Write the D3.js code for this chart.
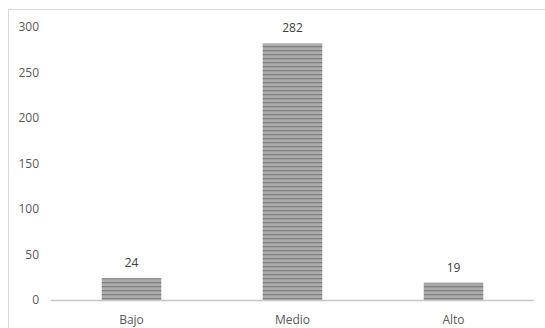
<!DOCTYPE html>
<html>
<head>
<meta charset="utf-8">
<script src="https://cdn.jsdelivr.net/npm/d3@7"></script>
<style>
  html, body { margin: 0; padding: 0; background: #fff; }
  svg { display: block; }
</style>
</head>
<body>
<div id="chart"></div>
<script>
'use strict';

// Chart data
const categories = ['Bajo', 'Medio', 'Alto'];
const values = [24, 282, 19];
const yTicks = [0, 50, 100, 150, 200, 250, 300];

const W = 545, H = 328;
const margin = { top: 27, right: 11, bottom: 28, left: 51 };

const svg = d3.select('#chart').append('svg')
    .attr('width', W)
    .attr('height', H);

// Striped fill for the bars
const pat = svg.append('defs').append('pattern')
    .attr('id', 'stripes')
    .attr('patternUnits', 'userSpaceOnUse')
    .attr('width', 8)
    .attr('height', 4);
pat.append('rect').attr('width', 8).attr('height', 4).attr('fill', '#ababab');
pat.append('rect').attr('y', 2).attr('width', 8).attr('height', 1.3).attr('fill', '#808080');

// Chart frame (only left and top edges are visible)
svg.append('rect')
    .attr('x', 8.5).attr('y', 9.5)
    .attr('width', W).attr('height', H)
    .attr('fill', 'none')
    .attr('stroke', '#d9d9d9')
    .attr('stroke-width', 1);

const x = d3.scaleBand()
    .domain(categories)
    .range([margin.left, W - margin.right])
    .paddingInner(0.63)
    .paddingOuter(0.315);

const y = d3.scaleLinear()
    .domain([0, 300])
    .range([H - margin.bottom, margin.top]);

const font = "'Open Sans', 'DejaVu Sans', sans-serif";

// Y tick labels
svg.append('g')
    .selectAll('text')
    .data(yTicks)
    .join('text')
    .attr('x', 39)
    .attr('y', d => y(d))
    .attr('dy', '0.35em')
    .attr('text-anchor', 'end')
    .attr('font-family', font)
    .attr('font-size', 12)
    .attr('fill', '#595959')
    .text(d => d);

// Bars
svg.append('g')
    .selectAll('rect')
    .data(values)
    .join('rect')
    .attr('x', (d, i) => x(categories[i]))
    .attr('y', d => y(d))
    .attr('width', x.bandwidth())
    .attr('height', d => y(0) - y(d))
    .attr('fill', 'url(#stripes)');

// Baseline
svg.append('line')
    .attr('x1', margin.left).attr('x2', W - margin.right)
    .attr('y1', y(0) + 0.5).attr('y2', y(0) + 0.5)
    .attr('stroke', '#c8c8c8')
    .attr('stroke-width', 1.5);

// Value labels
svg.append('g')
    .selectAll('text')
    .data(values)
    .join('text')
    .attr('x', (d, i) => x(categories[i]) + x.bandwidth() / 2)
    .attr('y', d => y(d) - 11)
    .attr('text-anchor', 'middle')
    .attr('font-family', font)
    .attr('font-size', 12)
    .attr('fill', '#404040')
    .text(d => d);

// Category labels
svg.append('g')
    .selectAll('text')
    .data(categories)
    .join('text')
    .attr('x', d => x(d) + x.bandwidth() / 2)
    .attr('y', y(0) + 24)
    .attr('text-anchor', 'middle')
    .attr('font-family', font)
    .attr('font-size', 12)
    .attr('fill', '#595959')
    .text(d => d);
</script>
</body>
</html>
